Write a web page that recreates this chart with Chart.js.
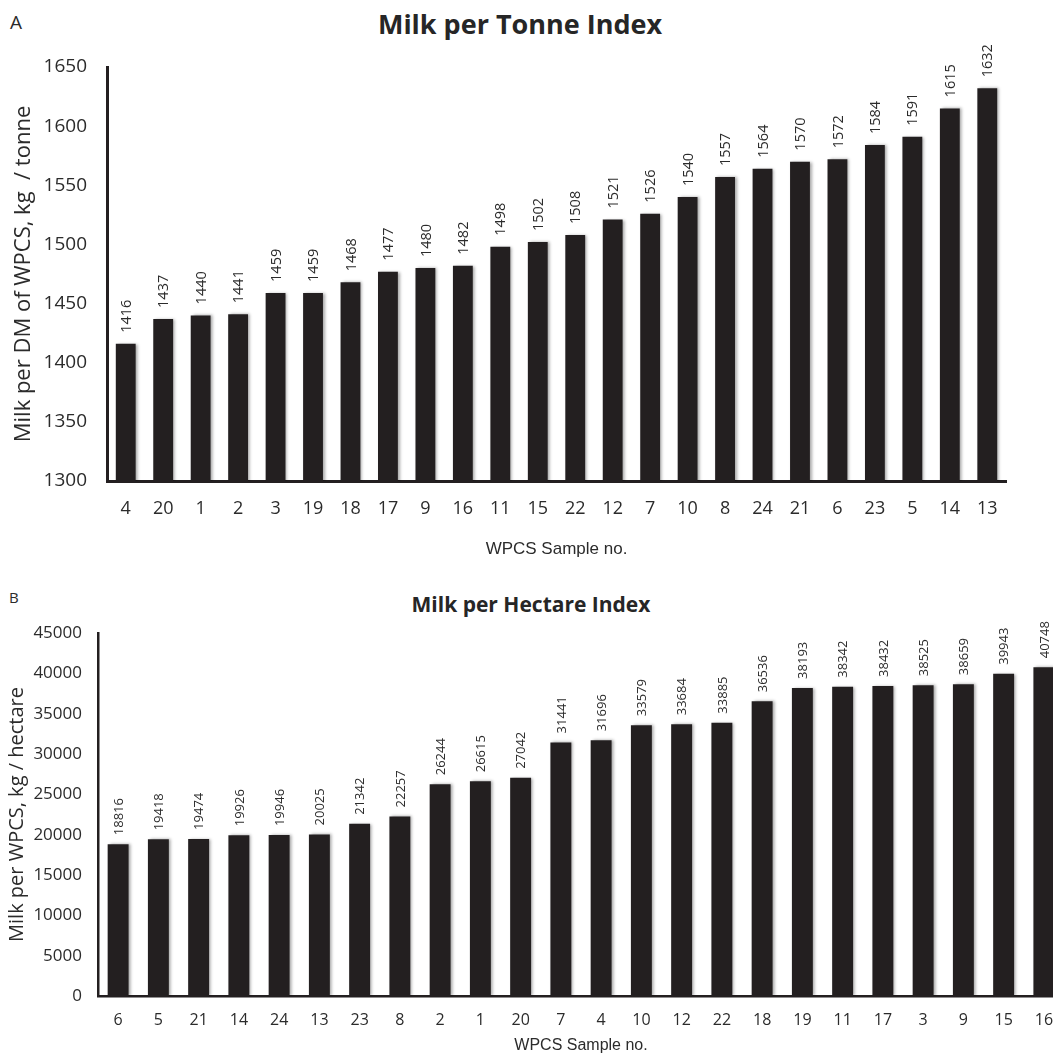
<!DOCTYPE html>
<html>
<head>
<meta charset="utf-8">
<title>Milk per Tonne and per Hectare Index</title>
<script src="https://cdn.jsdelivr.net/npm/chart.js@4/dist/chart.umd.min.js"></script>
<style>
  html, body { margin: 0; padding: 0; background: #fff; overflow: hidden; }
  body { width: 1053px; height: 1055px; position: relative; }
  canvas { position: absolute; left: 0; }
  .panel { position: absolute; font-family: "Open Sans", sans-serif; color: #2b2b2b; line-height: normal; }
  .title { position: absolute; font-family: "Open Sans", sans-serif; font-weight: bold; color: #262626;
           transform: translateX(-50%); white-space: nowrap; line-height: normal; }
</style>
</head>
<body>
<div class="panel" style="left:10px; top:9px; font-size:19px;">A</div>
<div class="title" style="left:520px; top:5px; font-size:27px;">Milk per Tonne Index</div>
<canvas id="tonne" width="1053" height="565" style="top:0;"></canvas>

<div class="panel" style="left:9px; top:587px; font-size:15px;">B</div>
<div class="title" style="left:531px; top:590px; font-size:21px;">Milk per Hectare Index</div>
<canvas id="hectare" width="1075" height="485" style="top:570px;"></canvas>

<script>
// Panel A: milk per tonne of dry matter, sorted ascending
const tonneSamples = ['4','20','1','2','3','19','18','17','9','16','11','15','22','12','7','10','8','24','21','6','23','5','14','13'];
const tonneValues  = [1416,1437,1440,1441,1459,1459,1468,1477,1480,1482,1498,1502,1508,1521,1526,1540,1557,1564,1570,1572,1584,1591,1615,1632];
const tonneTicks   = [1300,1350,1400,1450,1500,1550,1600,1650];

// Panel B: milk per hectare, sorted ascending
const hectareSamples = ['6','5','21','14','24','13','23','8','2','1','20','7','4','10','12','22','18','19','11','17','3','9','15','16'];
const hectareValues  = [18816,19418,19474,19926,19946,20025,21342,22257,26244,26615,27042,31441,31696,33579,33684,33885,36536,38193,38342,38432,38525,38659,39943,40748];
const hectareTicks   = [0,5000,10000,15000,20000,25000,30000,35000,40000,45000];

const BAR = '#231f20';
const TEXT = '#2b2b2b';
const FONT = 'Open Sans';

// Soft drop shadow to the right of each bar
const barShadow = {
  id: 'barShadow',
  beforeDatasetDraw(chart) {
    const ctx = chart.ctx;
    ctx.save();
    ctx.shadowColor = 'rgba(0,0,0,0.35)';
    ctx.shadowBlur = 3;
    ctx.shadowOffsetX = 2;
    ctx.shadowOffsetY = 0;
  },
  afterDatasetDraw(chart) { chart.ctx.restore(); }
};

// Vertical value labels above each bar
const valueLabels = {
  id: 'valueLabels',
  afterDatasetsDraw(chart, args, opts) {
    const ctx = chart.ctx;
    const meta = chart.getDatasetMeta(0);
    const data = chart.data.datasets[0].data;
    ctx.save();
    ctx.font = opts.font;
    ctx.fillStyle = TEXT;
    ctx.textAlign = 'left';
    ctx.textBaseline = 'middle';
    meta.data.forEach((bar, i) => {
      ctx.save();
      ctx.translate(bar.x + 1, bar.y - opts.gap);
      ctx.rotate(-Math.PI / 2);
      ctx.fillText(String(data[i]), 0, 0);
      ctx.restore();
    });
    ctx.restore();
  }
};

function makeChart(id, cfg) {
  return new Chart(document.getElementById(id), {
    type: 'bar',
    data: {
      labels: cfg.labels,
      datasets: [{
        data: cfg.values,
        backgroundColor: BAR,
        borderWidth: 0,
        categoryPercentage: 1,
        barPercentage: cfg.barPct
      }]
    },
    plugins: [barShadow, valueLabels],
    options: {
      responsive: false,
      animation: false,
      events: [],
      layout: { padding: { top: cfg.padTop, right: cfg.padRight, left: 0, bottom: 0 } },
      plugins: {
        legend: { display: false },
        title: { display: false },
        tooltip: { enabled: false },
        valueLabels: { font: cfg.labelFont, gap: cfg.labelGap }
      },
      scales: {
        x: {
          grid: { display: false, drawTicks: false },
          border: { display: true, color: BAR, width: cfg.axisWidth },
          ticks: { color: TEXT, font: { family: FONT, size: cfg.xTickSize }, padding: cfg.xTickPad, maxRotation: 0, autoSkip: false },
          title: { display: true, text: 'WPCS Sample no.', color: TEXT,
                   font: { family: 'Liberation Sans', size: cfg.xTitleSize }, padding: { top: 0, bottom: cfg.xTitlePad } },
          afterFit(scale) { scale.height = cfg.xHeight; }
        },
        y: {
          min: cfg.ticks[0],
          max: cfg.ticks[cfg.ticks.length - 1],
          grid: { display: false, drawTicks: false },
          border: { display: true, color: BAR, width: cfg.axisWidth },
          afterBuildTicks(scale) { scale.ticks = cfg.ticks.map(v => ({ value: v })); },
          ticks: { color: TEXT, font: { family: FONT, size: cfg.yTickSize }, padding: cfg.yTickPad,
                   callback: v => String(v) },
          title: { display: true, text: cfg.yTitle, color: TEXT,
                   font: { family: FONT, size: cfg.yTitleSize }, padding: { top: cfg.yTitlePad, bottom: 0 } },
          afterFit(scale) { scale.width = cfg.yWidth; }
        }
      }
    }
  });
}

makeChart('tonne', {
  labels: tonneSamples, values: tonneValues, ticks: tonneTicks,
  yTitle: 'Milk per DM of WPCS, kg  / tonne',
  barPct: 0.53, padTop: 67, padRight: 47, yWidth: 107, xHeight: 84,
  axisWidth: 3, xTickSize: 18, xTickPad: 17, xTitleSize: 17, xTitlePad: 5,
  yTickSize: 19, yTickPad: 20, yTitleSize: 22, yTitlePad: 11,
  labelFont: '14.5px "Open Sans"', labelGap: 11
});

makeChart('hectare', {
  labels: hectareSamples, values: hectareValues, ticks: hectareTicks,
  yTitle: 'Milk per WPCS, kg / hectare',
  barPct: 0.52, padTop: 63, padRight: 11, yWidth: 98, xHeight: 59,
  axisWidth: 2.5, xTickSize: 16, xTickPad: 15, xTitleSize: 16, xTitlePad: 0,
  yTickSize: 17, yTickPad: 16, yTitleSize: 20, yTitlePad: 5,
  labelFont: '13px "Open Sans"', labelGap: 9
});
</script>
</body>
</html>
